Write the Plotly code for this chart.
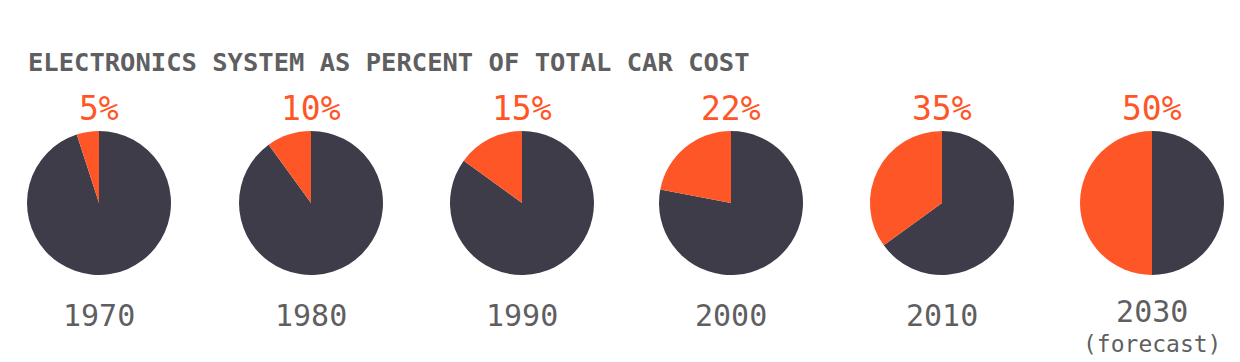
import plotly.graph_objects as go

years = ["1970", "1980", "1990", "2000", "2010", "2030"]
electronics_pct = [5, 10, 15, 22, 35, 50]
pct_labels = ["5%", "10%", "15%", "22%", "35%", "50%"]
subtitles = ["", "", "", "", "", "(forecast)"]
title_text = "ELECTRONICS SYSTEM AS PERCENT OF TOTAL CAR COST"

W, H = 1240, 362
ORANGE = "#FF5627"
DARK = "#3F3C4A"
GRAY = "#5F5F62"
FONT = "DejaVu Sans Mono"

centers_x = [99, 311, 522, 731, 942, 1152]
cy, r = 203, 72

fig = go.Figure()
annotations = []
for i, (yr, p) in enumerate(zip(years, electronics_pct)):
    cx = centers_x[i]
    fig.add_trace(go.Pie(
        values=[100 - p, p],
        labels=["Other", "Electronics"],
        marker=dict(colors=[DARK, ORANGE], line=dict(width=0)),
        sort=False,
        direction="counterclockwise",
        rotation=0,
        textinfo="none",
        hoverinfo="label+percent",
        showlegend=False,
        domain=dict(x=[(cx - r) / W, (cx + r) / W], y=[1 - (cy + r) / H, 1 - (cy - r) / H]),
    ))
    annotations.append(dict(x=cx / W, y=1 - 108 / H, xref="paper", yref="paper",
                            xanchor="center", yanchor="middle",
                            text=pct_labels[i], showarrow=False,
                            font=dict(family=FONT, size=33, color=ORANGE)))
    if subtitles[i]:
        annotations.append(dict(x=cx / W, y=1 - 325 / H, xref="paper", yref="paper",
                                xanchor="center", yanchor="middle",
                                text="<span style='font-size:30px'>" + yr + "</span><br>" + subtitles[i],
                                showarrow=False,
                                font=dict(family=FONT, size=23, color=GRAY)))
    else:
        annotations.append(dict(x=cx / W, y=1 - 315 / H, xref="paper", yref="paper",
                                xanchor="center", yanchor="middle",
                                text=yr, showarrow=False,
                                font=dict(family=FONT, size=30, color=GRAY)))

annotations.append(dict(x=26 / W, y=1 - 62 / H, xref="paper", yref="paper",
                        xanchor="left", yanchor="middle",
                        text="<b>" + title_text + "</b>", showarrow=False,
                        font=dict(family=FONT, size=25.5, color=GRAY)))

fig.update_layout(
    width=W, height=H,
    margin=dict(l=0, r=0, t=0, b=0),
    paper_bgcolor="white", plot_bgcolor="white",
    annotations=annotations,
)
fig.write_html("out.html", config={"displayModeBar": False},
               post_script="document.body.style.margin='0';document.body.style.overflow='hidden';")
